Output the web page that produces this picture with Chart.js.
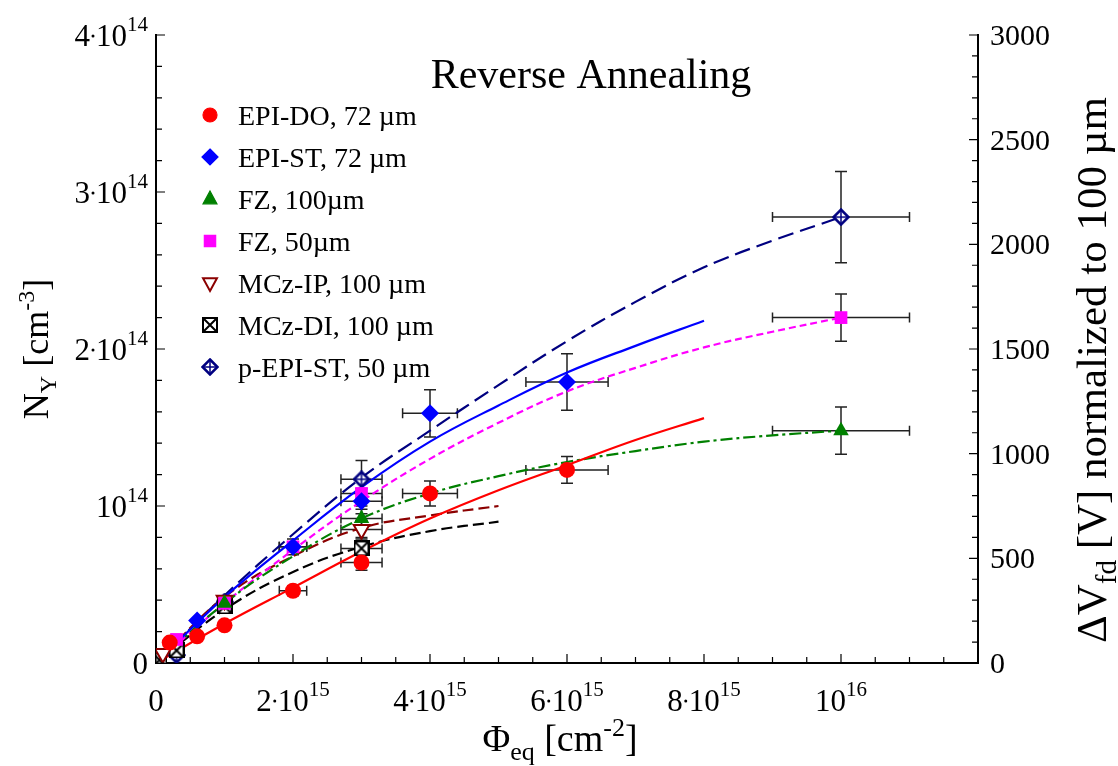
<!DOCTYPE html>
<html>
<head>
<meta charset="utf-8">
<script src="https://cdn.jsdelivr.net/npm/chart.js@4.4.0/dist/chart.umd.min.js"></script>
<style>
  html, body { margin: 0; background: #fff; }
</style>
</head>
<body>
<canvas id="chart" width="1118" height="766"></canvas>
<script>
// fluence in 1e15 cm^-2, N_Y in 1e14 cm^-3
const epiDoX = [0.2, 0.6, 1, 2, 3, 4, 6];
const epiDoY = [0.13, 0.17, 0.24, 0.46, 0.64, 1.08, 1.23];
const epiDoXErr = [0, 0, 0, 0.2, 0.3, 0.4, 0.6];
const epiDoYErr = [0, 0, 0.02, 0.03, 0.05, 0.08, 0.085];

const epiStX = [0.6, 2, 3, 4, 6];
const epiStY = [0.27, 0.74, 1.03, 1.59, 1.79];
const epiStXErr = [0, 0.2, 0.3, 0.4, 0.6];
const epiStYErr = [0, 0.05, 0.08, 0.15, 0.18];

const fz100X = [1, 3, 10];
const fz100Y = [0.38, 0.92, 1.48];
const fz100XErr = [0, 0.3, 1];
const fz100YErr = [0, 0.06, 0.15];

const fz50X = [0.3, 1, 2, 3, 10];
const fz50Y = [0.15, 0.38, 0.74, 1.08, 2.2];
const fz50XErr = [0, 0, 0.2, 0.3, 1];
const fz50YErr = [0, 0, 0, 0.08, 0.15];

const mczIpX = [0.1, 1, 3];
const mczIpY = [0.06, 0.40, 0.85];
const mczIpXErr = [0, 0, 0.3];
const mczIpYErr = [0, 0, 0.06];

const mczDiX = [0.05, 0.3, 1, 3];
const mczDiY = [0.02, 0.08, 0.36, 0.73];
const mczDiXErr = [0, 0, 0.1, 0.3];
const mczDiYErr = [0, 0, 0.03, 0.07];

const pEpiX = [0.3, 1, 3, 10];
const pEpiY = [0.05, 0.39, 1.17, 2.84];
const pEpiXErr = [0, 0.1, 0.3, 1];
const pEpiYErr = [0, 0.03, 0.12, 0.29];

// fit curves
const fitX10 = [0, 1, 2, 3, 4, 5, 6, 7, 8, 9, 10];
const fitX8 = [0, 1, 2, 3, 4, 5, 6, 7, 8];
const fitX5 = [0, 1, 2, 3, 4, 5];
const fitEpiDo = [0, 0.25, 0.48, 0.71, 0.92, 1.10, 1.26, 1.42, 1.56];
const fitEpiSt = [0, 0.42, 0.78, 1.12, 1.41, 1.64, 1.85, 2.02, 2.18];
const fitFz100 = [0, 0.38, 0.68, 0.92, 1.08, 1.19, 1.28, 1.35, 1.41, 1.45, 1.48];
const fitFz50 = [0, 0.38, 0.72, 1.03, 1.30, 1.53, 1.73, 1.88, 2.01, 2.11, 2.20];
const fitMczIp = [0, 0.42, 0.68, 0.86, 0.94, 1.00];
const fitMczDi = [0, 0.34, 0.58, 0.74, 0.84, 0.90];
const fitPEpi = [0, 0.43, 0.82, 1.18, 1.48, 1.77, 2.05, 2.30, 2.52, 2.69, 2.84];

const legendLabels = ['EPI-DO, 72 \u00b5m', 'EPI-ST, 72 \u00b5m', 'FZ, 100\u00b5m', 'FZ, 50\u00b5m',
                      'MCz-IP, 100 \u00b5m', 'MCz-DI, 100 \u00b5m', 'p-EPI-ST, 50 \u00b5m'];
const xTickExp = [['', ''], ['2', '15'], ['4', '15'], ['6', '15'], ['8', '15'], ['', '16']];
const yTickExp = [['', ''], ['', '14'], ['2', '14'], ['3', '14'], ['4', '14']];
const y2Ticks = [0, 500, 1000, 1500, 2000, 2500, 3000];

const SERIF = '"Liberation Serif", "Times New Roman", serif';

function pts(xs, ys) {
    return xs.map((x, i) => ({ x: x * 1e15, y: ys[i] * 1e14 }));
}

// custom marker canvases
function crossBox(size) {
    const c = document.createElement('canvas');
    c.width = c.height = size;
    const g = c.getContext('2d');
    g.fillStyle = '#fff';
    g.fillRect(1, 1, size - 2, size - 2);
    g.strokeStyle = '#000';
    g.lineWidth = 2;
    g.strokeRect(1, 1, size - 2, size - 2);
    g.beginPath();
    g.moveTo(2, 2); g.lineTo(size - 2, size - 2);
    g.moveTo(size - 2, 2); g.lineTo(2, size - 2);
    g.stroke();
    return c;
}

function crossDiamond(size) {
    const c = document.createElement('canvas');
    c.width = c.height = size;
    const g = c.getContext('2d');
    const h = size / 2;
    g.fillStyle = '#fff';
    g.strokeStyle = '#000080';
    g.lineWidth = 2.5;
    g.beginPath();
    g.moveTo(h, 1.5); g.lineTo(size - 1.5, h); g.lineTo(h, size - 1.5); g.lineTo(1.5, h);
    g.closePath();
    g.fill();
    g.stroke();
    g.lineWidth = 1.5;
    g.beginPath();
    g.moveTo(h, 3); g.lineTo(h, size - 3);
    g.moveTo(3, h); g.lineTo(size - 3, h);
    g.stroke();
    return c;
}

const boxImg = crossBox(16);
const diamImg = crossDiamond(18);

function markerSet(label, xs, ys, xe, ye, style) {
    return Object.assign({
        label: label,
        data: pts(xs, ys),
        xErr: xe,
        yErr: ye,
        showLine: false,
        isMarker: true
    }, style);
}

function fitSet(xs, ys, color, dash) {
    return {
        label: '',
        data: pts(xs, ys),
        showLine: true,
        borderColor: color,
        borderWidth: 2.2,
        borderDash: dash,
        pointRadius: 0,
        fill: false,
        tension: 0.4,
        isMarker: false
    };
}

const datasets = [
    markerSet(legendLabels[0], epiDoX, epiDoY, epiDoXErr, epiDoYErr,
        { pointStyle: 'circle', pointRadius: 8, backgroundColor: '#ff0000', borderColor: '#ff0000', borderWidth: 0 }),
    markerSet(legendLabels[1], epiStX, epiStY, epiStXErr, epiStYErr,
        { pointStyle: 'rectRot', pointRadius: 9, backgroundColor: '#0000ff', borderColor: '#0000ff', borderWidth: 0 }),
    markerSet(legendLabels[2], fz100X, fz100Y, fz100XErr, fz100YErr,
        { pointStyle: 'triangle', pointRadius: 9, backgroundColor: '#008000', borderColor: '#008000', borderWidth: 0 }),
    markerSet(legendLabels[3], fz50X, fz50Y, fz50XErr, fz50YErr,
        { pointStyle: 'rect', pointRadius: 9, backgroundColor: '#ff00ff', borderColor: '#ff00ff', borderWidth: 0 }),
    markerSet(legendLabels[4], mczIpX, mczIpY, mczIpXErr, mczIpYErr,
        { pointStyle: 'triangle', rotation: 180, pointRadius: 9, backgroundColor: '#fff', borderColor: '#8b0000', borderWidth: 2 }),
    markerSet(legendLabels[5], mczDiX, mczDiY, mczDiXErr, mczDiYErr,
        { pointStyle: boxImg, pointRadius: 8 }),
    markerSet(legendLabels[6], pEpiX, pEpiY, pEpiXErr, pEpiYErr,
        { pointStyle: diamImg, pointRadius: 9 }),
    fitSet(fitX8, fitEpiDo, '#ff0000', []),
    fitSet(fitX8, fitEpiSt, '#0000ff', []),
    fitSet(fitX10, fitFz100, '#008000', [12, 4, 3, 4]),
    fitSet(fitX10, fitFz50, '#ff00ff', [7, 4]),
    fitSet(fitX5, fitMczIp, '#8b0000', [11, 5]),
    fitSet(fitX5, fitMczDi, '#000000', [11, 5]),
    fitSet(fitX10, fitPEpi, '#000080', [16, 7])
];

// error bars, drawn under the markers
const errorBars = {
    id: 'errorBars',
    beforeDatasetsDraw(chart) {
        const ctx = chart.ctx;
        const xs = chart.scales.x, ys = chart.scales.y;
        ctx.save();
        ctx.strokeStyle = '#222';
        ctx.lineWidth = 1.5;
        chart.data.datasets.forEach(ds => {
            if (!ds.isMarker) return;
            ds.data.forEach((p, i) => {
                const px = xs.getPixelForValue(p.x), py = ys.getPixelForValue(p.y);
                const ex = ds.xErr[i] * 1e15, ey = ds.yErr[i] * 1e14;
                ctx.beginPath();
                if (ex > 0) {
                    const l = xs.getPixelForValue(p.x - ex), r = xs.getPixelForValue(p.x + ex);
                    ctx.moveTo(l, py); ctx.lineTo(r, py);
                    ctx.moveTo(l, py - 5); ctx.lineTo(l, py + 5);
                    ctx.moveTo(r, py - 5); ctx.lineTo(r, py + 5);
                }
                if (ey > 0) {
                    const t = ys.getPixelForValue(p.y + ey), b = ys.getPixelForValue(p.y - ey);
                    ctx.moveTo(px, t); ctx.lineTo(px, b);
                    ctx.moveTo(px - 6, t); ctx.lineTo(px + 6, t);
                    ctx.moveTo(px - 6, b); ctx.lineTo(px + 6, b);
                }
                ctx.stroke();
            });
        });
        ctx.restore();
    }
};

// draws "m·10^e" style label
function powLabel(ctx, mant, exp, x, y, align) {
    const fb = '31px ' + SERIF, fe = '21px ' + SERIF;
    ctx.font = fb;
    if (!exp) {
        ctx.textAlign = align;
        ctx.fillText('0', x, y);
        return;
    }
    const wm = mant ? ctx.measureText(mant).width : 0;
    const wd = mant ? 6 : 0;
    const w10 = ctx.measureText('10').width;
    ctx.font = fe;
    const we = ctx.measureText(exp).width;
    const total = wm + wd + w10 + we;
    let x0 = align === 'right' ? x - total : align === 'center' ? x - total / 2 : x;
    ctx.textAlign = 'left';
    ctx.font = fb;
    if (mant) {
        ctx.fillText(mant, x0, y);
        ctx.beginPath();
        ctx.arc(x0 + wm + 3, y - 10, 1.5, 0, Math.PI * 2);
        ctx.fill();
    }
    ctx.fillText('10', x0 + wm + wd, y);
    ctx.font = fe;
    ctx.fillText(exp, x0 + wm + wd + w10, y - 15);
}

// text with sub/superscripts; parts: [text, size, dy]
function richText(ctx, parts, x, y, rot) {
    let total = 0;
    parts.forEach(p => { ctx.font = p[1] + 'px ' + SERIF; total += ctx.measureText(p[0]).width; });
    ctx.save();
    ctx.translate(x, y);
    if (rot) ctx.rotate(rot);
    ctx.textAlign = 'left';
    let cx = -total / 2;
    parts.forEach(p => {
        ctx.font = p[1] + 'px ' + SERIF;
        ctx.fillText(p[0], cx, p[2]);
        cx += ctx.measureText(p[0]).width;
    });
    ctx.restore();
}

function drawMarker(ctx, ds, x, y) {
    const st = ds.pointStyle;
    if (st instanceof HTMLCanvasElement) {
        ctx.drawImage(st, x - st.width / 2, y - st.height / 2);
        return;
    }
    const r = ds.pointRadius - 1;
    ctx.save();
    ctx.fillStyle = ds.backgroundColor;
    ctx.strokeStyle = ds.borderColor;
    ctx.lineWidth = ds.borderWidth || 0;
    ctx.beginPath();
    if (st === 'circle') {
        ctx.arc(x, y, r, 0, Math.PI * 2);
    } else if (st === 'rectRot') {
        ctx.moveTo(x, y - r); ctx.lineTo(x + r, y); ctx.lineTo(x, y + r); ctx.lineTo(x - r, y);
    } else if (st === 'rect') {
        const s = r * Math.SQRT1_2;
        ctx.rect(x - s, y - s, 2 * s, 2 * s);
    } else if (st === 'triangle') {
        const d = ds.rotation === 180 ? -1 : 1;
        ctx.moveTo(x, y - d * r);
        ctx.lineTo(x + r * 0.87, y + d * r * 0.6);
        ctx.lineTo(x - r * 0.87, y + d * r * 0.6);
    }
    ctx.closePath();
    ctx.fill();
    if (ctx.lineWidth > 0) ctx.stroke();
    ctx.restore();
}

const decorations = {
    id: 'decorations',
    afterDraw(chart) {
        const ctx = chart.ctx;
        const xs = chart.scales.x, ys = chart.scales.y, y2 = chart.scales.y2;
        const a = chart.chartArea;
        ctx.save();
        ctx.strokeStyle = '#000';
        ctx.fillStyle = '#000';
        ctx.lineWidth = 1.2;

        // inward ticks
        ctx.beginPath();
        for (let v = 0; v <= 12; v += 0.5) {
            const px = xs.getPixelForValue(v * 1e15);
            const len = (v % 2 === 0) ? 9 : 6;
            ctx.moveTo(px, a.bottom); ctx.lineTo(px, a.bottom - len);
        }
        for (let v = 0; v <= 40; v += 2) {
            const py = ys.getPixelForValue(v * 1e13);
            const len = (v % 10 === 0) ? 9 : 6;
            ctx.moveTo(a.left, py); ctx.lineTo(a.left + len, py);
        }
        for (let v = 0; v <= 3000; v += 100) {
            const py = y2.getPixelForValue(v);
            const len = (v % 500 === 0) ? 9 : 6;
            ctx.moveTo(a.right, py); ctx.lineTo(a.right - len, py);
        }
        ctx.stroke();

        // tick labels
        ctx.textBaseline = 'alphabetic';
        xTickExp.forEach((t, i) => {
            powLabel(ctx, t[0], t[1], xs.getPixelForValue(i * 2e15), a.bottom + 48, 'center');
        });
        yTickExp.forEach((t, i) => {
            powLabel(ctx, t[0], t[1], a.left - 8, ys.getPixelForValue(i * 1e14) + 11, 'right');
        });
        ctx.font = '30px ' + SERIF;
        ctx.textAlign = 'left';
        y2Ticks.forEach(v => {
            ctx.fillText(String(v), a.right + 12, y2.getPixelForValue(v) + 10);
        });

        // axis titles
        richText(ctx, [['N', 36, 0], ['Y', 24, 8], [' [cm', 36, 0], ['-3', 24, -14], [']', 36, 0]],
            a.left - 108, (a.top + a.bottom) / 2, -Math.PI / 2);
        richText(ctx, [['\u03a6', 38, 0], ['eq', 26, 9], [' [cm', 38, 0], ['-2', 26, -15], [']', 38, 0]],
            (a.left + a.right) / 2 - 7, a.bottom + 88, 0);
        richText(ctx, [['\u0394V', 43, 0], ['fd', 29, 10], [' [V] normalized to 100 \u00b5m', 43, 0]],
            a.right + 128, 370, -Math.PI / 2);

        // title
        ctx.font = '42px ' + SERIF;
        ctx.textAlign = 'center';
        ctx.fillText('Reverse Annealing', 591, 88);

        // legend
        chart.data.datasets.filter(d => d.isMarker).forEach((ds, i) => {
            const ly = 115 + i * 42;
            drawMarker(ctx, ds, 210, ly);
            ctx.fillStyle = '#000';
            ctx.font = '28px ' + SERIF;
            ctx.textAlign = 'left';
            ctx.fillText(ds.label, 238, ly + 10);
        });
        ctx.restore();
    }
};

new Chart(document.getElementById('chart'), {
    type: 'scatter',
    data: { datasets: datasets },
    options: {
        responsive: false,
        animation: false,
        layout: { padding: { left: 156, right: 140, top: 35, bottom: 103 } },
        plugins: { legend: { display: false }, tooltip: { enabled: false } },
        scales: {
            x: {
                type: 'linear', min: 0, max: 12e15,
                ticks: { display: false },
                grid: { display: false, drawTicks: false },
                border: { color: '#000', width: 2 }
            },
            y: {
                type: 'linear', min: 0, max: 4e14,
                ticks: { display: false },
                grid: { display: false, drawTicks: false },
                border: { color: '#000', width: 2 }
            },
            y2: {
                type: 'linear', position: 'right', min: 0, max: 3000,
                ticks: { display: false },
                grid: { display: false, drawTicks: false },
                border: { color: '#000', width: 2 }
            }
        }
    },
    plugins: [errorBars, decorations]
});
</script>
</body>
</html>
